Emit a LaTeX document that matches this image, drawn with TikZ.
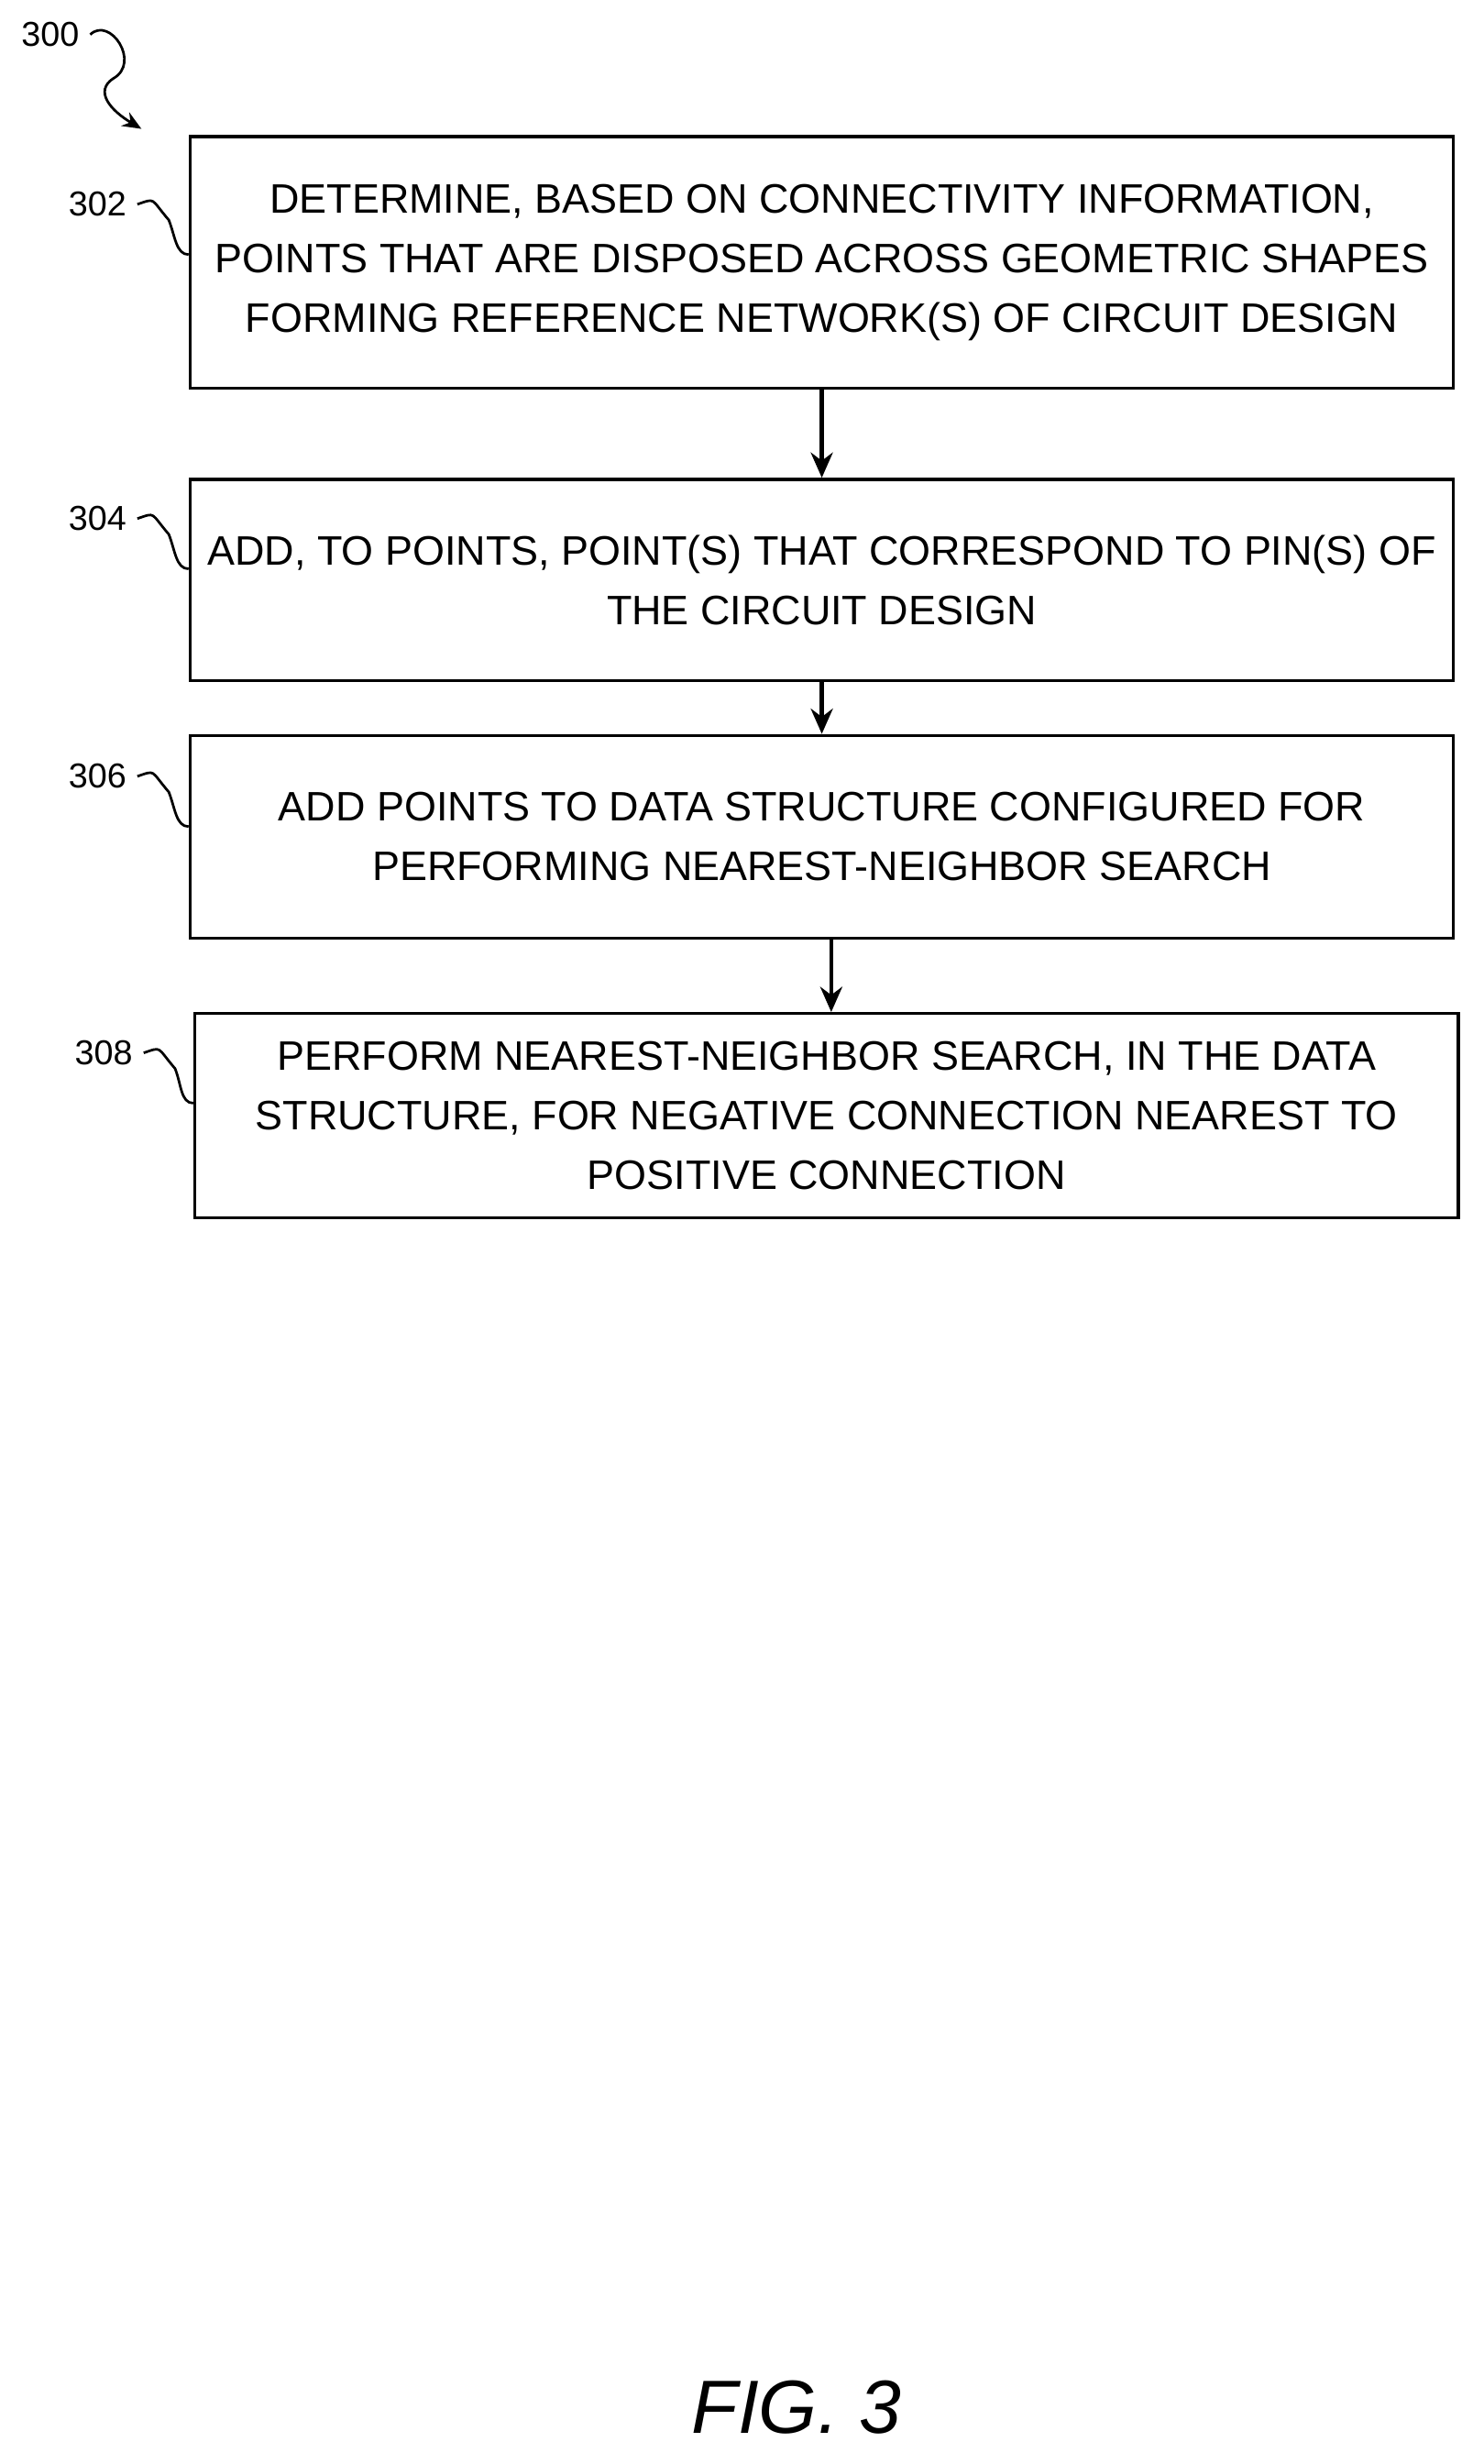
\documentclass[tikz,border=0pt]{standalone}
\usepackage{fontspec}
\setmainfont{Liberation Sans}
\usetikzlibrary{arrows.meta}

\begin{document}
\begin{tikzpicture}[x=0.5pt, y=-0.5pt,
			stepbox/.style={draw, line width=1pt, minimum width=402pt, inner xsep=1pt, align=center, font=\fontsize{13.1}{19}\selectfont},
			ref/.style={font=\fontsize{11}{13}\selectfont},
			flow/.style={-{Stealth[length=8pt,width=7pt]}, line width=1.3pt},
		]
		\useasboundingbox (0,0) rectangle (944,1568);

		\node[stepbox, minimum height=80pt] (determine) at (523,167) {DETERMINE, BASED ON CONNECTIVITY INFORMATION,\\POINTS THAT ARE DISPOSED ACROSS GEOMETRIC SHAPES\\FORMING REFERENCE NETWORK(S) OF CIRCUIT DESIGN};
		\node[stepbox, minimum height=64pt] (add-pins) at (523,369) {ADD, TO POINTS, POINT(S) THAT CORRESPOND TO PIN(S) OF\\THE CIRCUIT DESIGN};
		\node[stepbox, minimum height=64.5pt] (add-struct) at (523,532.5) {ADD POINTS TO DATA STRUCTURE CONFIGURED FOR\\PERFORMING NEAREST-NEIGHBOR SEARCH};
		\node[stepbox, minimum height=65pt] (search) at (526,710) {PERFORM NEAREST-NEIGHBOR SEARCH, IN THE DATA\\STRUCTURE, FOR NEGATIVE CONNECTION NEAREST TO\\POSITIVE CONNECTION};

		\draw[flow] (determine) -- (add-pins);
		\draw[flow] (add-pins) -- (add-struct);
		\draw[flow] ([xshift=3pt]add-struct.south) -- ([xshift=1.5pt]search.north);

		% reference numerals
		\node[ref] (n300) at (32,22) {300};
		\node[ref] (n302) at (62,130) {302};
		\node[ref] (n304) at (62,330) {304};
		\node[ref] (n306) at (62,494) {306};
		\node[ref] (n308) at (66,670) {308};
		\draw[-{Stealth[length=6pt,width=5pt]}, line width=0.8pt] (n300.east) .. controls (70,10) and (90,40) .. (72,50) .. controls (60,58) and (70,70) .. (90,82);
		\foreach \n/\b in {n302/determine, n304/add-pins, n306/add-struct, n308/search} {
			\path (\n.east) ++(0,32) coordinate (\n-tip);
			\draw[line width=0.8pt] (\n.east) .. controls +(12,-4) and +(-12,-14) .. ++(20,10) .. controls +(4,10) and +(-8,0) .. (\b.west |- \n-tip);
		}

		\node[font=\itshape\fontsize{24}{28}\selectfont] (fig) at (507,1532) {FIG. 3};
\end{tikzpicture}
\end{document}
